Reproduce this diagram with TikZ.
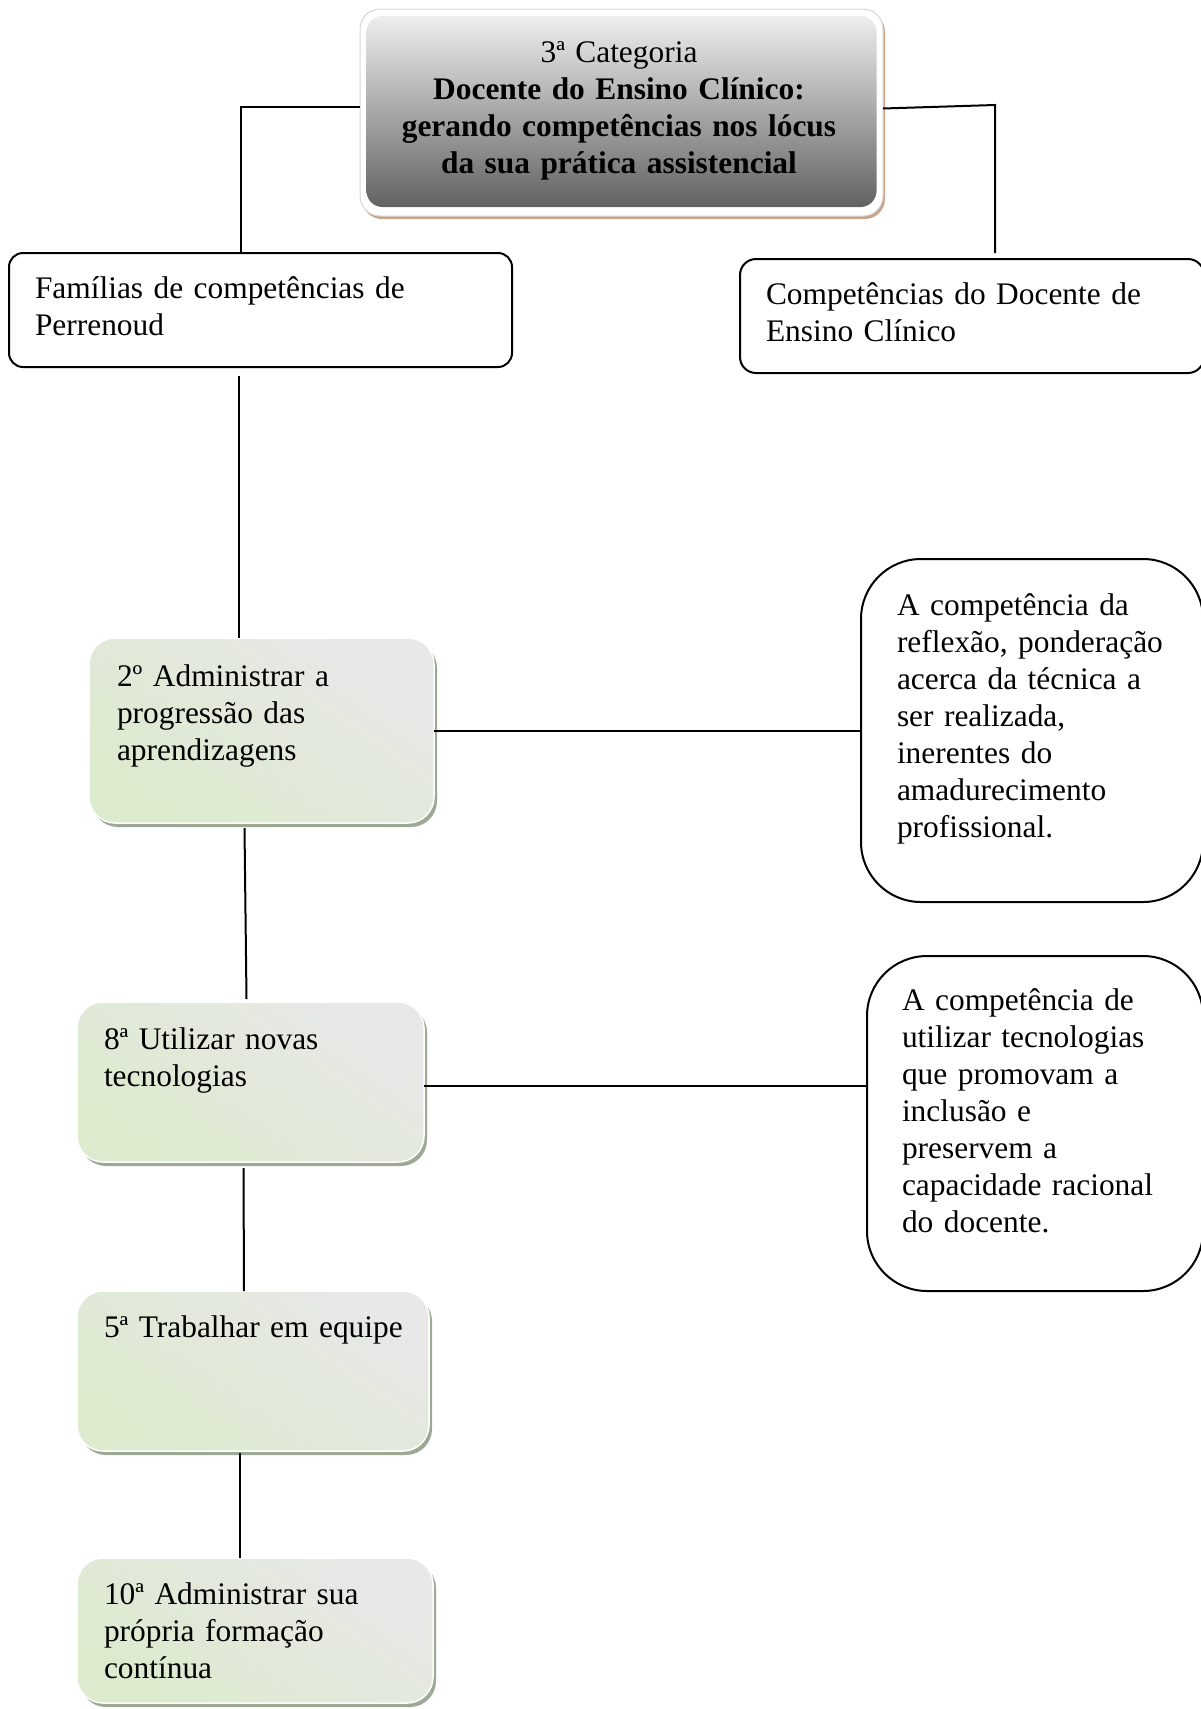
\documentclass[tikz,border=0pt]{standalone}
\usepackage{fontspec}
\setmainfont{Liberation Serif}
\usetikzlibrary{calc}

\definecolor{gGray}{HTML}{E8E8E8}
\definecolor{gGreen}{HTML}{DCEACD}
\definecolor{gShadow}{HTML}{9DA895}
\definecolor{tTop}{HTML}{EEEEEE}
\definecolor{tBottom}{HTML}{626262}
\definecolor{tShadow}{HTML}{C9A48A}
\definecolor{tRim}{HTML}{D6D6D6}

\newcommand{\boxfont}{\fontsize{31.4}{37}\selectfont}

\tikzset{
  every node/.style={outer sep=0pt},
  plainbox/.style={draw=black, line width=2pt, fill=white, rounded corners=#1,
    inner sep=0pt, anchor=north west},
  greenbox/.style={rounded corners=26pt, inner sep=0pt, anchor=north west,
    draw=white, line width=1.5pt, top color=gGray, bottom color=gGreen, shading angle=-35,
    preaction={fill=gShadow, transform canvas={xshift=3pt,yshift=-4pt}}},
  toprim/.style={rounded corners=20pt, inner sep=0pt, anchor=north west,
    fill=white, draw=tRim, line width=1pt,
    preaction={fill=tShadow, transform canvas={xshift=2pt,yshift=-3pt}}},
  topfill/.style={rounded corners=16pt, inner sep=0pt, anchor=north west,
    top color=tTop, bottom color=tBottom},
  txt/.style={inner sep=0pt, anchor=base west, text width=#1, align=left, font=\boxfont},
  wire/.style={line width=2pt, black}
}

\begin{document}
\begin{tikzpicture}[x=1pt,y=-1pt]
  \useasboundingbox (0,0) rectangle (1201,1709);
  \clip (0,0) rectangle (1201,1709);

  % title box
  \node[toprim, minimum width=523pt, minimum height=207pt] (top) at (360,9) {};
  \node[topfill, minimum width=510pt, minimum height=191pt] (topin) at (366.5,16) {};
  \node[inner sep=0pt, anchor=base, text width=500pt, align=center, font=\boxfont]
    (toptext) at (619,62)
    {3ª Categoria\\\textbf{Docente do Ensino Clínico:}\\\textbf{gerando competências nos lócus}\\\textbf{da sua prática assistencial}};

  % second level
  \node[plainbox=14pt, minimum width=503pt, minimum height=114pt] (fam) at (9,253) {};
  \node[txt=460pt] (famtext) at (35,298) {Famílias de competências de\\Perrenoud};

  \node[plainbox=16pt, minimum width=464pt, minimum height=114pt] (comp) at (740,259) {};
  \node[txt=430pt] (comptext) at (766,304) {Competências do Docente de\\Ensino Clínico};

  % Perrenoud families
  \node[greenbox, minimum width=345pt, minimum height=185pt] (g1) at (89,638) {};
  \node[txt=320pt] (g1text) at (117,686) {2º Administrar a\\progressão das\\aprendizagens};

  \node[greenbox, minimum width=347pt, minimum height=160pt] (g2) at (77,1002) {};
  \node[txt=320pt] (g2text) at (104,1049) {8ª Utilizar novas\\tecnologias};

  \node[greenbox, minimum width=352pt, minimum height=160pt] (g3) at (77,1291) {};
  \node[txt=330pt] (g3text) at (104,1337) {5ª Trabalhar em equipe};

  \node[greenbox, minimum width=356pt, minimum height=145pt] (g4) at (77,1558) {};
  \node[txt=330pt] (g4text) at (104,1604) {10ª Administrar sua\\própria formação\\contínua};

  % clinical teaching competences
  \node[plainbox=60pt, minimum width=342pt, minimum height=343pt] (r1) at (861,559) {};
  \node[txt=320pt] (r1text) at (897,615)
    {A competência da\\reflexão, ponderação\\acerca da técnica a\\ser realizada,\\inerentes do\\amadurecimento\\profissional.};

  \node[plainbox=60pt, minimum width=336pt, minimum height=335pt] (r2) at (867,956) {};
  \node[txt=320pt] (r2text) at (902,1010)
    {A competência de\\utilizar tecnologias\\que promovam a\\inclusão e\\preservem a\\capacidade racional\\do docente.};

  % connectors
  \coordinate (fl) at ($(fam.north)+(-20,0)$);
  \draw[wire] ([yshift=6pt]top.west) -| (fl);
  \coordinate (rk) at (995,105);
  \coordinate (rkend) at (995,253);
  \draw[wire] ([yshift=4pt]top.east) -- (rk) -- (rkend);

  \coordinate (fs) at ($(fam.south)+(-22,9)$);
  \draw[wire] (fs) -- (fs |- g1.north);
  \draw[wire] ($(g1.south)+(-17,5)$) -- ($(g2.north)+(-4,-3)$);
  \draw[wire] ($(g2.south)+(-7,6)$) -- ($(g3.north)+(-9,0)$);
  \draw[wire] ($(g3.south)+(-13,2)$) -- ($(g4.north)+(-15,0)$);

  \draw[wire] (r1.west -| g1.east) -- (r1.west);
  \draw[wire] ([yshift=-4pt]g2.east) -- ([yshift=-4pt]g2.east -| r2.west);
\end{tikzpicture}
\end{document}
